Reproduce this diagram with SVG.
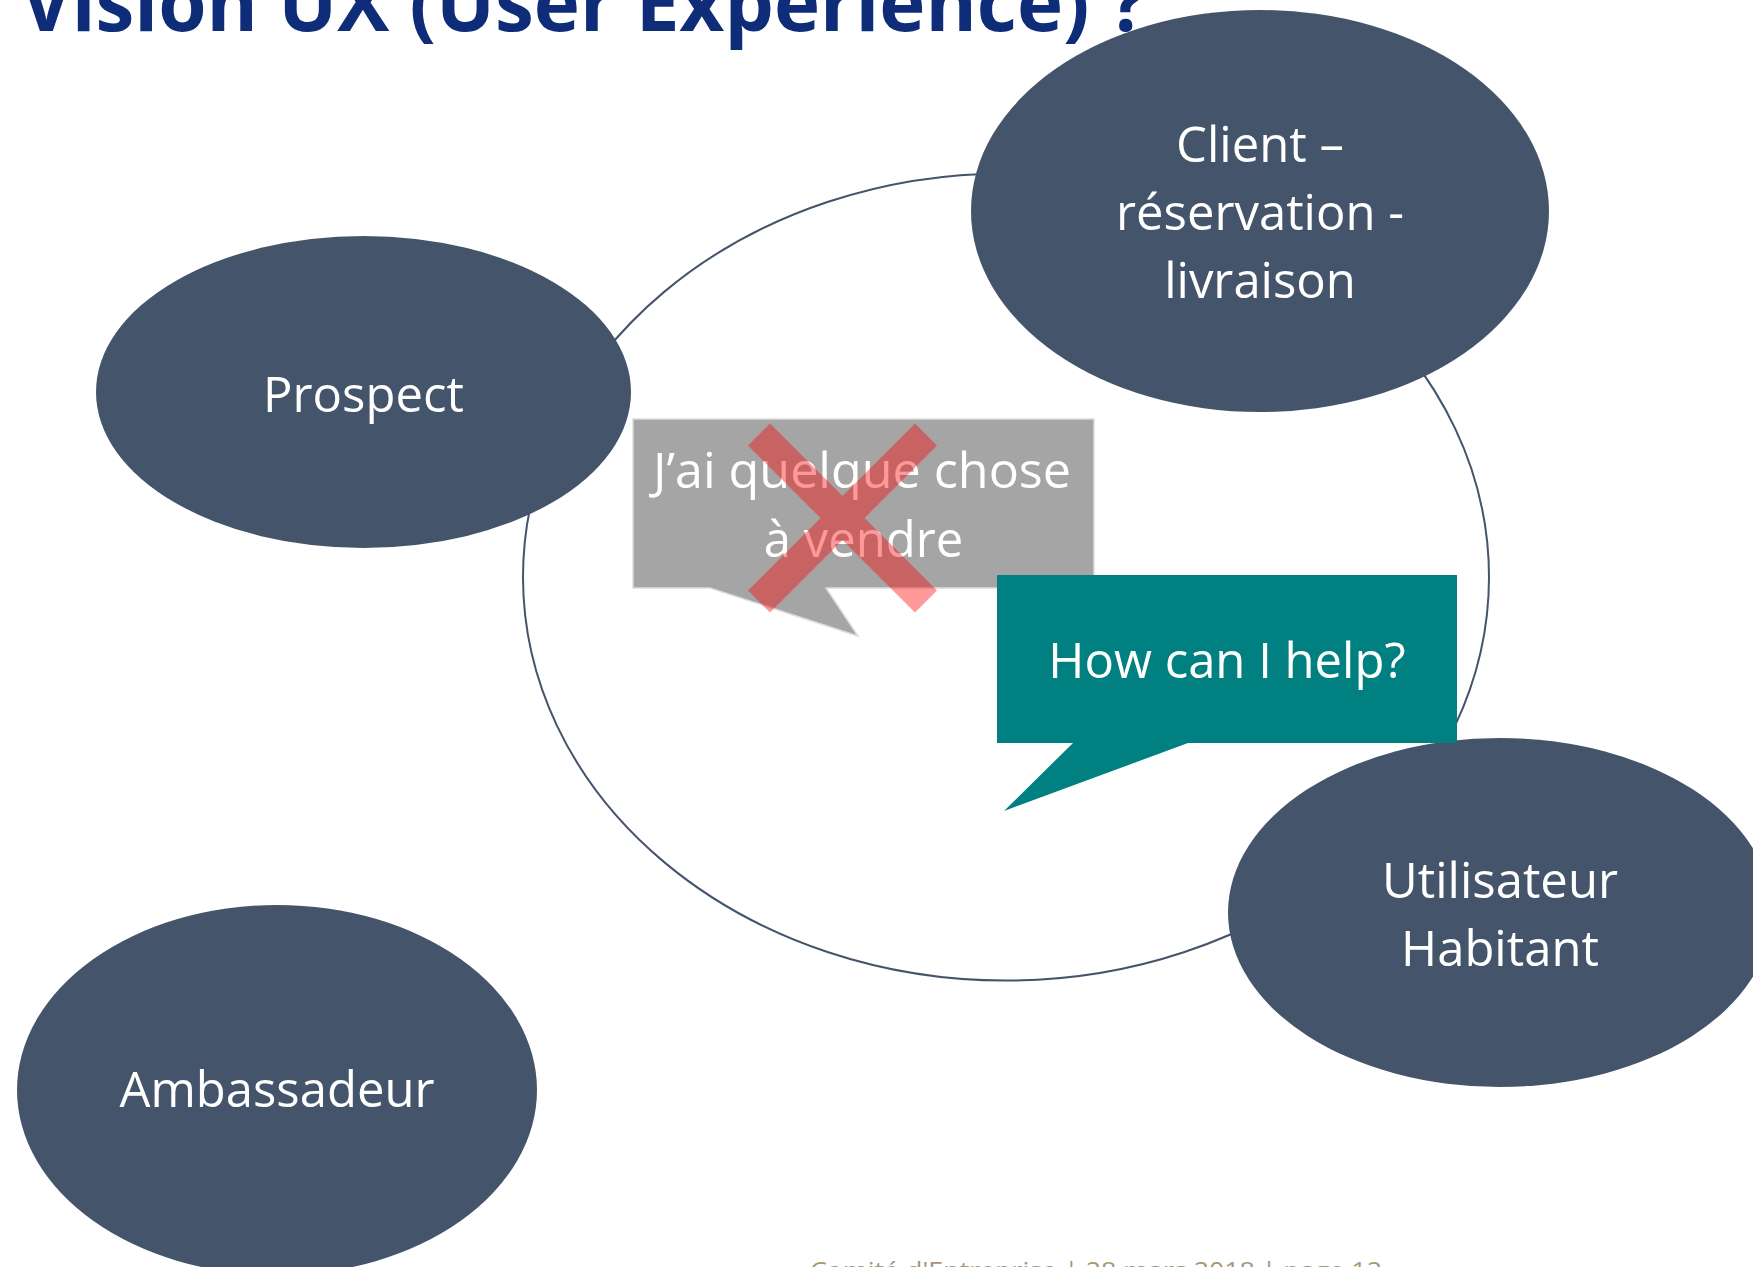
<svg xmlns="http://www.w3.org/2000/svg" width="1753" height="1267" viewBox="0 0 1753 1267">
  <style>
    .node { fill: #44546A; }
    .lbl { font-family: "Open Sans", "Liberation Sans", sans-serif; font-size: 49px; fill: #FFFFFF; text-anchor: middle; }
    .ring { fill: none; stroke: #44546A; stroke-width: 2; }
    .title { font-family: "Open Sans", "Liberation Sans", sans-serif; font-size: 78px; font-weight: 700; fill: #0F2C78; }
    .footer { font-family: "Open Sans", "Liberation Sans", sans-serif; font-size: 24px; fill: #AA9678; }
  </style>
  <rect width="1753" height="1267" fill="#FFFFFF"/>

  <g id="title">
    <text class="title" x="21" y="31" textLength="1126" lengthAdjust="spacingAndGlyphs">Vision UX (User Experience) ?</text>
  </g>

  <g id="connectors">
    <ellipse class="ring" cx="1006" cy="577" rx="483" ry="403.6"/>
  </g>

  <g id="node-prospect">
    <ellipse class="node" cx="363.5" cy="392" rx="267.5" ry="156"/>
    <text class="lbl" x="363.5" y="412">Prospect</text>
  </g>

  <g id="node-client">
    <ellipse class="node" cx="1260" cy="211" rx="289" ry="201"/>
    <text class="lbl" x="1260" y="162">Client –</text>
    <text class="lbl" x="1260" y="230">réservation -</text>
    <text class="lbl" x="1260" y="298">livraison</text>
  </g>

  <g id="node-utilisateur">
    <ellipse class="node" cx="1500" cy="912.5" rx="272" ry="174.5"/>
    <text class="lbl" x="1500" y="898">Utilisateur</text>
    <text class="lbl" x="1500" y="966">Habitant</text>
  </g>

  <g id="node-ambassadeur">
    <ellipse class="node" cx="277" cy="1090" rx="260" ry="185"/>
    <text class="lbl" x="277" y="1107">Ambassadeur</text>
  </g>

  <g id="callout-vendre">
    <path d="M633,419 H1094 V588 H826 L858,636 L710,588 H633 Z" fill="#A5A5A5" stroke="#DCDCDC" stroke-width="1.5"/>
    <text class="lbl" x="862" y="488" textLength="418" lengthAdjust="spacingAndGlyphs">J’ai quelque chose</text>
    <text class="lbl" x="863.5" y="557">à vendre</text>
  </g>

  <g id="cross">
    <path transform="translate(842.5 518)" d="M-72.5,-94.5 L0,-22 L72.5,-94.5 L94.5,-72.5 L22,0 L94.5,72.5 L72.5,94.5 L0,22 L-72.5,94.5 L-94.5,72.5 L-22,0 L-94.5,-72.5 Z" fill="#FF0000" fill-opacity="0.4"/>
  </g>

  <g id="callout-help">
    <path d="M997,575 H1457 V743 H1188 L1004,811 L1073,743 H997 Z" fill="#008080"/>
    <text class="lbl" x="1227" y="678">How can I help?</text>
  </g>

  <g id="footer">
    <text class="footer" x="810" y="1279" textLength="572" lengthAdjust="spacingAndGlyphs">Comité d'Entreprise | 28 mars 2018 | page 12</text>
  </g>
</svg>
